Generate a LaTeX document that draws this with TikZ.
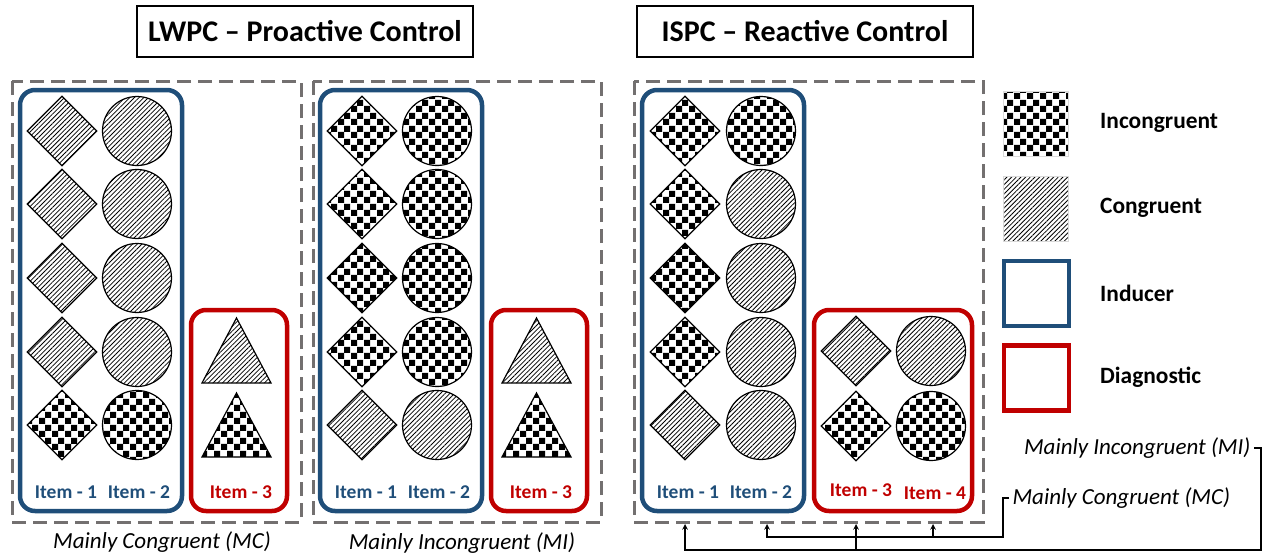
\documentclass[tikz,border=0pt]{standalone}
\usepackage{fontspec}
\setmainfont{Carlito}
\usepackage{tikz}
\usetikzlibrary{arrows,shapes,positioning,patterns.meta}
\definecolor{dfblue}{RGB}{31,78,121}
\definecolor{dfred}{RGB}{192,0,0}
\definecolor{dfgray}{RGB}{115,112,112}
\tikzdeclarepattern{
  name=chess,
  type=uncolored,
  bottom left={(0pt,0pt)},
  top right={(13pt,13pt)},
  tile size={(13pt,13pt)},
  code={
    \fill (0pt,0pt) rectangle (6.5pt,6.5pt);
    \fill (6.5pt,6.5pt) rectangle (13pt,13pt);
  }
}
\tikzstyle{cong} = [pattern={Lines[angle=45,distance=3.3pt,line width=0.8pt]}]
\tikzstyle{incong} = [pattern=chess]
\tikzstyle{dia} = [diamond,draw,line width=1.2pt,minimum width=70pt,minimum height=70pt,inner sep=0pt]
\tikzstyle{ball} = [circle,draw,line width=1.2pt,minimum size=69pt,inner sep=0pt]
\tikzstyle{tri} = [draw,line width=1.2pt,line join=miter]
\tikzstyle{inducer} = [draw=dfblue,line width=4.5pt,rounded corners=15pt]
\tikzstyle{diagnostic} = [draw=dfred,line width=4.5pt,rounded corners=15pt]
\tikzstyle{panelframe} = [draw=dfgray,line width=3pt,dash pattern=on 14pt off 7pt]
\tikzstyle{headbox} = [draw,line width=2.5pt,minimum width=336pt,minimum height=51pt,font=\bfseries\fontsize{30}{36}\selectfont]
\tikzstyle{itemtext} = [font=\bfseries\fontsize{19.5}{22}\selectfont]
\tikzstyle{capt} = [font=\itshape\fontsize{23}{27}\selectfont]
\tikzstyle{keybox} = [draw=black!15,line width=0.4pt,minimum size=65pt,inner sep=0pt]
\tikzstyle{keytext} = [anchor=west,inner sep=0pt,font=\bfseries\fontsize{23.4}{27}\selectfont]
\tikzstyle{arrow} = [line width=1.5pt,->,>=stealth]

\begin{document}
\begin{tikzpicture}[x=1pt,y=-1pt]
\useasboundingbox (0,0) rectangle (1267,554);

% Titles
\node[headbox] (lwpc) at (305,31.5) {LWPC – Proactive Control};
\node[headbox] (ispc) at (805,31.5) {ISPC – Reactive Control};

% Dashed frames
\draw[panelframe] (12,81) rectangle (301,522);
\draw[panelframe] (313,81) rectangle (601,522);
\draw[panelframe] (634,81) rectangle (983,522);

% Inducer / diagnostic boxes
\draw[inducer] (20,90) rectangle (182,511);
\draw[diagnostic] (191,310) rectangle (287,511);
\draw[inducer] (320,90) rectangle (482,511);
\draw[diagnostic] (491,310) rectangle (587,511);
\draw[inducer] (642,90) rectangle (804,511);
\draw[diagnostic] (814,310) rectangle (972,511);

% Mainly congruent list
\foreach \y/\f [count=\i] in {131/cong,204/cong,278/cong,352/cong,425/incong} {
  \node[dia,\f] (mcD\i) at (62,\y) {};
  \node[ball,\f] (mcC\i) at (137,\y) {};
}
\draw[tri,cong] (236.5,318) -- (271,383) -- (202,383) -- cycle;
\draw[tri,incong] (236.5,393) -- (271,457) -- (202,457) -- cycle;
\node[itemtext,text=dfblue] (mcI1) at (66,492) {Item - 1};
\node[itemtext,text=dfblue] (mcI2) at (139,492) {Item - 2};
\node[itemtext,text=dfred] (mcI3) at (241,492) {Item - 3};
\node[capt] (mcCap) at (162,542) {Mainly Congruent (MC)};

% Mainly incongruent list
\foreach \y/\f [count=\i] in {131/incong,204/incong,278/incong,352/incong,425/cong} {
  \node[dia,\f] (miD\i) at (362,\y) {};
  \node[ball,\f] (miC\i) at (437,\y) {};
}
\draw[tri,cong] (536.5,318) -- (571,383) -- (502,383) -- cycle;
\draw[tri,incong] (536.5,393) -- (571,457) -- (502,457) -- cycle;
\node[itemtext,text=dfblue] (miI1) at (366,492) {Item - 1};
\node[itemtext,text=dfblue] (miI2) at (439,492) {Item - 2};
\node[itemtext,text=dfred] (miI3) at (541,492) {Item - 3};
\node[capt] (miCap) at (462,543) {Mainly Incongruent (MI)};

% Item specific list
\foreach \y/\f/\g [count=\i] in {131/incong/incong,204/incong/cong,278/incong/cong,352/incong/cong,425/cong/cong} {
  \node[dia,\f] (isD\i) at (685,\y) {};
  \node[ball,\g] (isC\i) at (761,\y) {};
}
\node[dia,cong] (isD6) at (856,351) {};
\node[ball,cong] (isC6) at (931,351) {};
\node[dia,incong] (isD7) at (856,426) {};
\node[ball,incong] (isC7) at (931,426) {};
\node[itemtext,text=dfblue] (isI1) at (688,492) {Item - 1};
\node[itemtext,text=dfblue] (isI2) at (761,492) {Item - 2};
\node[itemtext,text=dfred] (isI3) at (861,490) {Item - 3};
\node[itemtext,text=dfred] (isI4) at (935,493) {Item - 4};

% Legend
\node[keybox,incong] (kInc) at (1035.5,123.5) {};
\node[keybox,cong] (kCon) at (1035.5,209) {};
\node[keybox,draw=dfblue,line width=4.5pt] (kInd) at (1036.5,293.5) {};
\node[keybox,draw=dfred,line width=4.5pt] (kDia) at (1036.5,378) {};
\node[keytext] (tInc) at (1100,123) {Incongruent};
\node[keytext] (tCon) at (1100,208) {Congruent};
\node[keytext] (tInd) at (1100,293) {Inducer};
\node[keytext] (tDia) at (1100,377) {Diagnostic};

% Proportion links
\node[capt,anchor=east] (mi) at (1254,448) {Mainly Incongruent (MI)};
\node[capt,anchor=west] (mc) at (1009,498) {Mainly Congruent (MC)};
\coordinate (tgtI1) at (685,524);
\coordinate (tgtI3) at (856,524);
\coordinate (tgtC2) at (767,524);
\coordinate (tgtC4) at (933,524);
\coordinate (miTurn) at (1261,550);
\coordinate (mcTurn) at (1003,537);
\draw[arrow] (mi.east) -| (miTurn) -| (tgtI1);
\draw[arrow] (tgtI3 |- miTurn) -- (tgtI3);
\draw[arrow] (mc.west) -| (mcTurn) -| (tgtC2);
\draw[arrow] (tgtC4 |- mcTurn) -- (tgtC4);
\end{tikzpicture}
\end{document}
